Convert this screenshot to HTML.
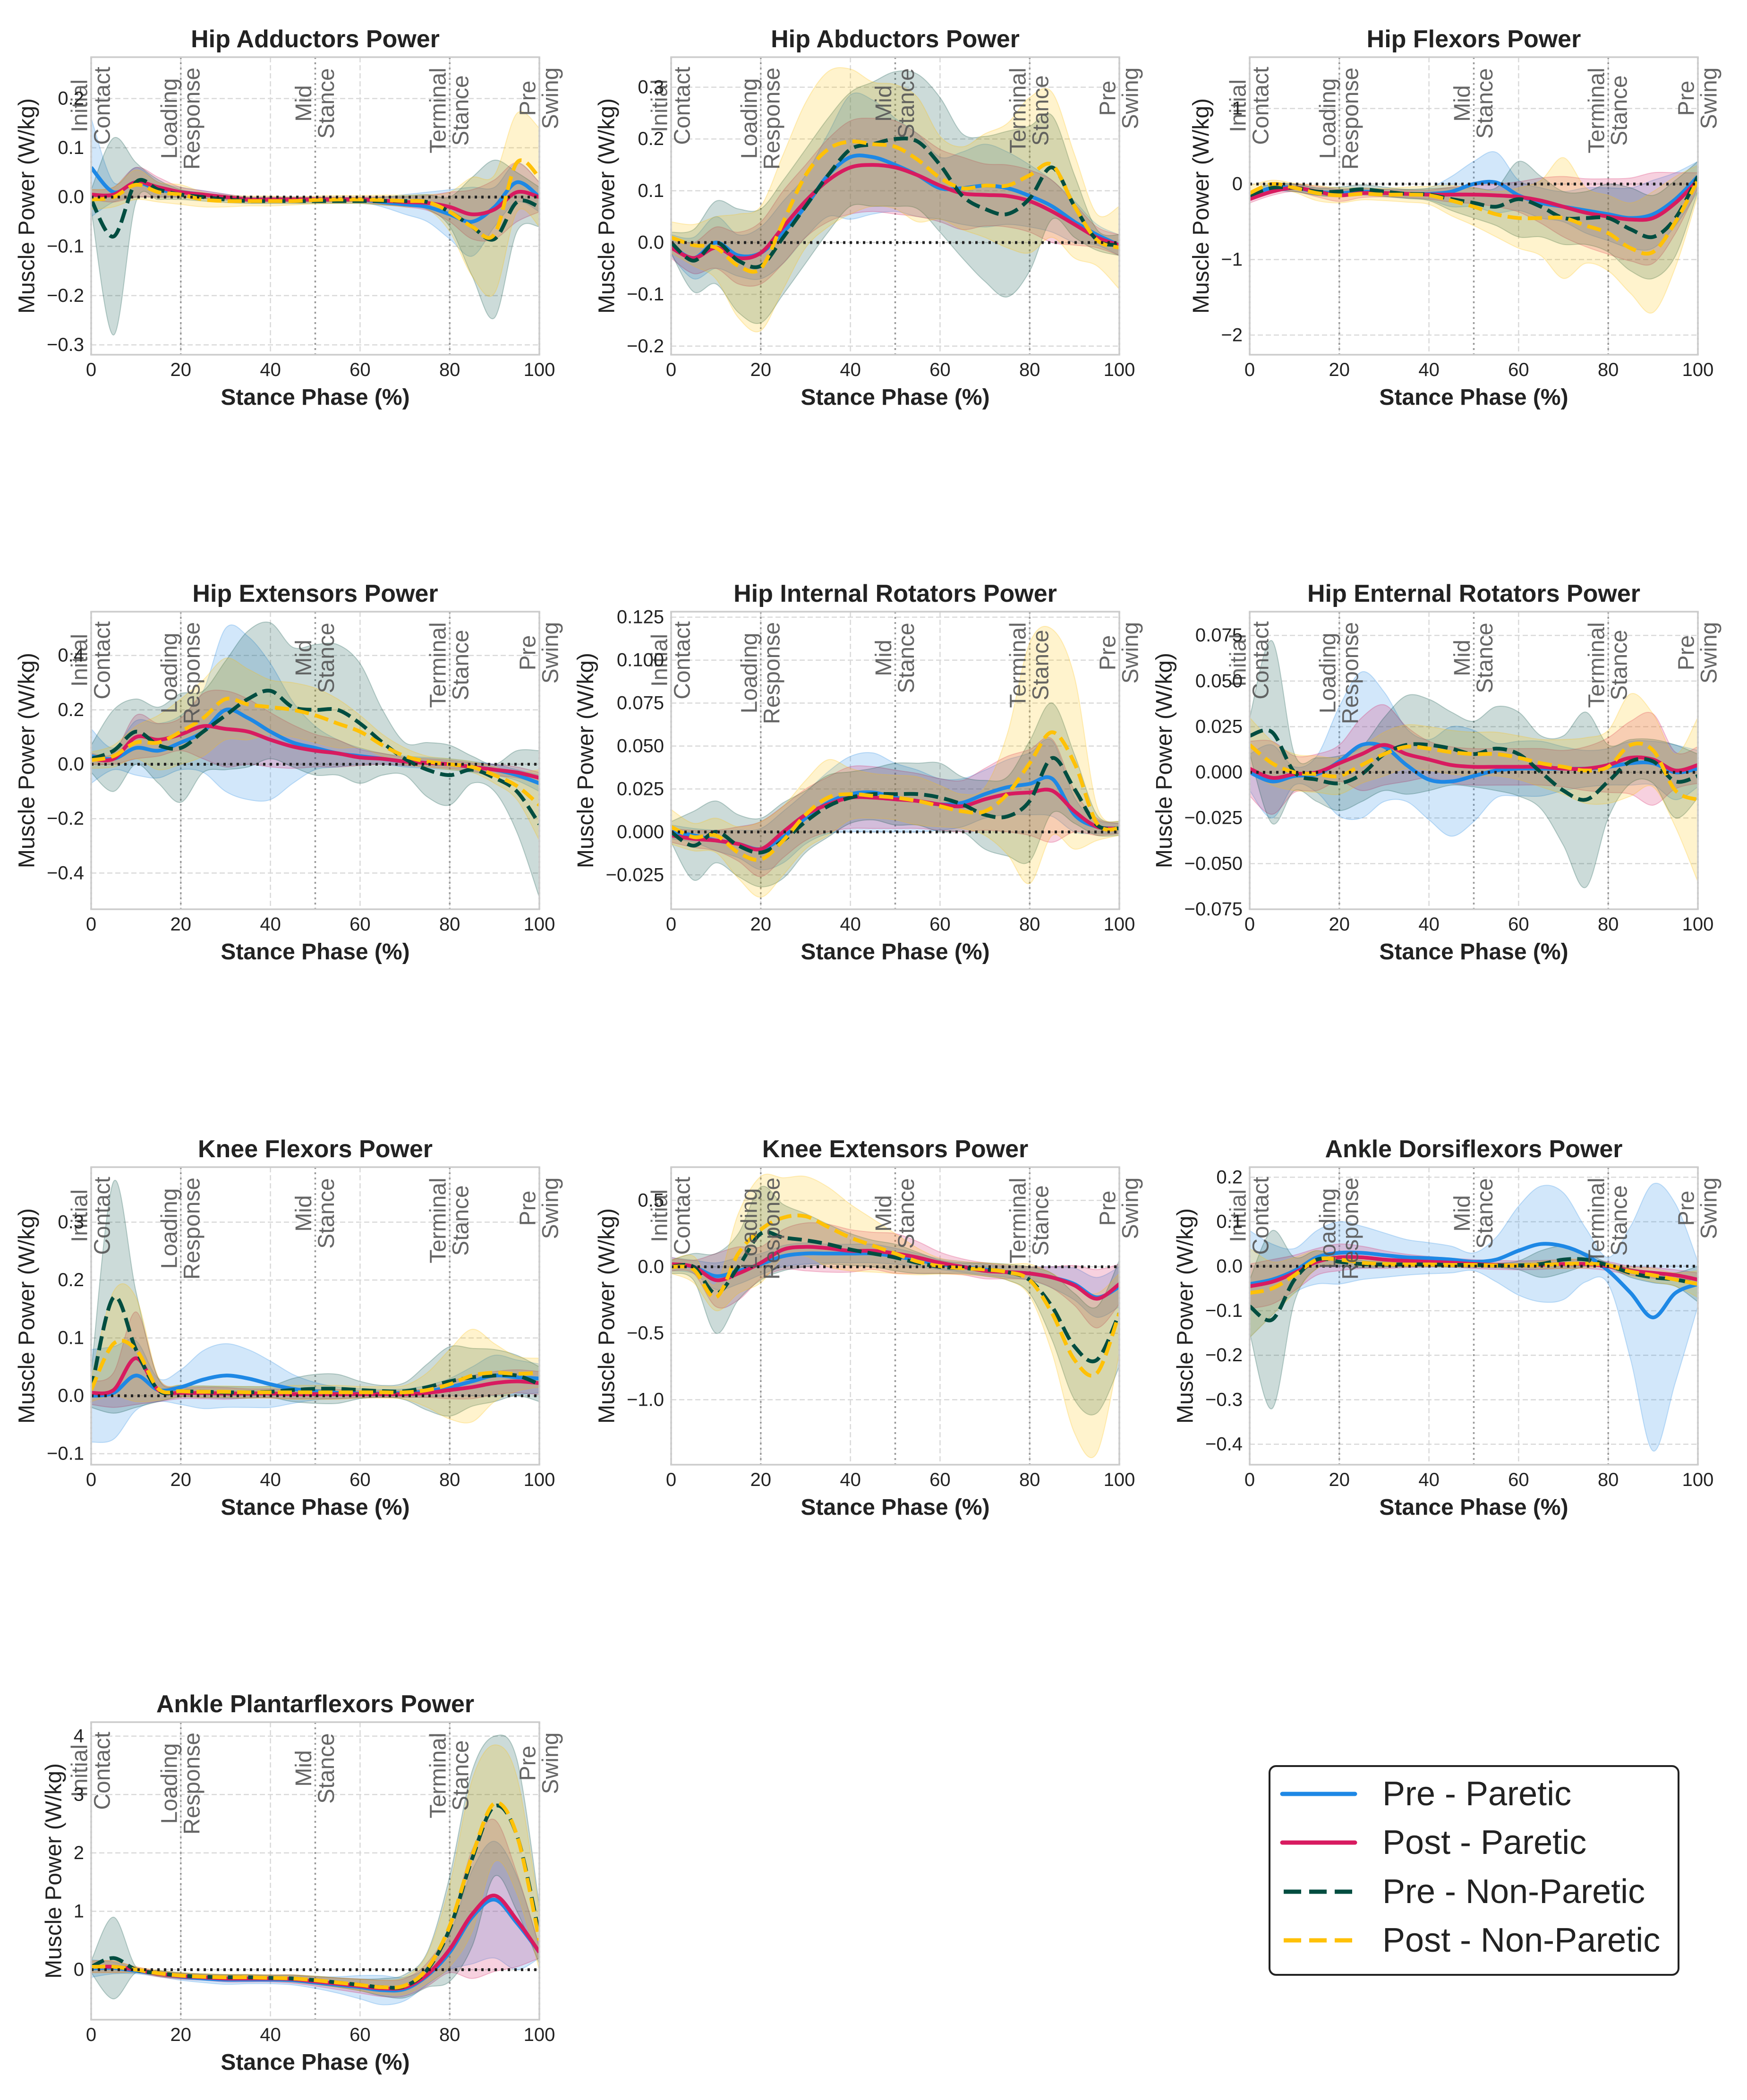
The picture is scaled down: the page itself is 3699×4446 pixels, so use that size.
<!DOCTYPE html>
<html><head><meta charset="utf-8"><style>
html,body{margin:0;padding:0;background:#fff;}
svg{display:block;font-family:"Liberation Sans",Arial,sans-serif;}
</style></head><body>
<svg id="fig" width="3699" height="4446" viewBox="0 0 3699 4446" xmlns="http://www.w3.org/2000/svg">
<rect width="3699" height="4446" fill="#fff"/>
<g id="legend">
<rect x="2688" y="3739" width="866" height="442" rx="14" fill="#fff" stroke="#222" stroke-width="4"/>
<g><line x1="2715" y1="3798" x2="2869" y2="3798" stroke="#1E88E5" stroke-width="9" stroke-linecap="round"/><text x="2927" y="3798" font-size="72" dominant-baseline="central" fill="#222">Pre - Paretic</text></g>
<g><line x1="2715" y1="3901" x2="2869" y2="3901" stroke="#D81B60" stroke-width="9" stroke-linecap="round"/><text x="2927" y="3901" font-size="72" dominant-baseline="central" fill="#222">Post - Paretic</text></g>
<g><line x1="2718" y1="4005" x2="2866" y2="4005" stroke="#004D40" stroke-width="9" stroke-dasharray="37 17"/><text x="2927" y="4005" font-size="72" dominant-baseline="central" fill="#222">Pre - Non-Paretic</text></g>
<g><line x1="2718" y1="4108" x2="2866" y2="4108" stroke="#FFC107" stroke-width="9" stroke-dasharray="37 17"/><text x="2927" y="4108" font-size="72" dominant-baseline="central" fill="#222">Post - Non-Paretic</text></g>
</g>
</svg>
<script>
const phase = [0,5,10,15,20,25,30,35,40,45,50,55,60,65,70,75,80,85,90,95,100];
const xTicks = [0,20,40,60,80,100];
const seriesNames = ["Pre - Paretic","Post - Paretic","Pre - Non-Paretic","Post - Non-Paretic"];
const panelTitles = ["Hip Adductors Power","Hip Abductors Power","Hip Flexors Power","Hip Extensors Power","Hip Internal Rotators Power","Hip Enternal Rotators Power","Knee Flexors Power","Knee Extensors Power","Ankle Dorsiflexors Power","Ankle Plantarflexors Power"];

// 1 Hip Adductors
const hipAdd_prePar = [0.06,0.01,0.03,0.015,0.01,0.005,0,-0.005,-0.005,-0.005,-0.005,-0.005,-0.005,-0.01,-0.015,-0.02,-0.035,-0.05,-0.02,0.03,0];
const hipAdd_postPar = [0.005,0.005,0.03,0.02,0.01,0.005,0,-0.005,-0.005,-0.005,-0.005,-0.005,-0.005,-0.007,-0.01,-0.012,-0.02,-0.035,-0.025,0.01,0];
const hipAdd_preNon = [-0.005,-0.08,0.03,0.015,0.005,0,-0.005,-0.008,-0.008,-0.008,-0.008,-0.008,-0.008,-0.008,-0.008,-0.01,-0.03,-0.06,-0.085,-0.01,-0.02];
const hipAdd_postNon = [-0.005,0,0.025,0.01,0.005,-0.005,-0.008,-0.008,-0.008,-0.008,-0.006,-0.005,-0.005,-0.006,-0.008,-0.01,-0.03,-0.06,-0.075,0.07,0.04];
const hipAdd_prePar_sd = [0.1,0.02,0.03,0.015,0.01,0.008,0.006,0.005,0.005,0.005,0.005,0.005,0.005,0.01,0.02,0.03,0.05,0.07,0.04,0.04,0.03];
const hipAdd_postPar_sd = [0.01,0.015,0.03,0.02,0.01,0.008,0.006,0.005,0.005,0.005,0.005,0.005,0.005,0.008,0.01,0.015,0.03,0.05,0.06,0.06,0.03];
const hipAdd_preNon_sd = [0.02,0.2,0.04,0.02,0.01,0.008,0.006,0.005,0.005,0.005,0.005,0.005,0.005,0.008,0.01,0.015,0.03,0.1,0.16,0.06,0.04];
const hipAdd_postNon_sd = [0.02,0.02,0.03,0.02,0.02,0.015,0.012,0.01,0.01,0.008,0.008,0.008,0.008,0.01,0.012,0.015,0.04,0.1,0.12,0.1,0.1];
// 2 Hip Abductors
const hipAbd_prePar = [-0.005,-0.03,0,-0.025,-0.02,0.02,0.07,0.13,0.165,0.165,0.15,0.13,0.105,0.105,0.11,0.105,0.09,0.07,0.04,0.015,-0.005];
const hipAbd_postPar = [-0.01,-0.03,-0.01,-0.03,-0.02,0.03,0.08,0.12,0.145,0.15,0.145,0.13,0.11,0.095,0.092,0.09,0.08,0.06,0.035,0.01,-0.005];
const hipAbd_preNon = [0,-0.035,0,-0.035,-0.045,0.01,0.07,0.13,0.18,0.19,0.2,0.195,0.15,0.09,0.065,0.055,0.085,0.145,0.07,0.005,-0.005];
const hipAbd_postNon = [0.01,-0.005,-0.01,-0.045,-0.05,0.04,0.13,0.18,0.195,0.19,0.185,0.16,0.125,0.105,0.11,0.11,0.13,0.15,0.07,0.005,-0.01];
const hipAbd_prePar_sd = [0.02,0.04,0.05,0.04,0.05,0.06,0.06,0.08,0.12,0.11,0.09,0.08,0.06,0.07,0.08,0.07,0.06,0.05,0.04,0.02,0.02];
const hipAbd_postPar_sd = [0.02,0.03,0.04,0.05,0.06,0.07,0.07,0.08,0.09,0.09,0.09,0.08,0.07,0.07,0.06,0.06,0.06,0.06,0.04,0.02,0.02];
const hipAbd_preNon_sd = [0.02,0.06,0.08,0.1,0.11,0.11,0.11,0.11,0.11,0.12,0.13,0.13,0.13,0.12,0.14,0.16,0.14,0.1,0.06,0.02,0.02];
const hipAbd_postNon_sd = [0.03,0.04,0.06,0.1,0.12,0.13,0.14,0.15,0.14,0.12,0.12,0.12,0.08,0.08,0.1,0.12,0.15,0.14,0.1,0.05,0.08];
// 3 Hip Flexors
const hipFlex_prePar = [-0.15,-0.05,-0.05,-0.1,-0.12,-0.1,-0.12,-0.13,-0.13,-0.1,0,0.02,-0.15,-0.25,-0.3,-0.35,-0.4,-0.45,-0.4,-0.2,0.1];
const hipFlex_postPar = [-0.2,-0.1,-0.05,-0.1,-0.15,-0.12,-0.12,-0.13,-0.14,-0.14,-0.14,-0.15,-0.17,-0.22,-0.3,-0.38,-0.43,-0.47,-0.45,-0.25,0.05];
const hipFlex_preNon = [-0.15,-0.05,-0.05,-0.1,-0.1,-0.07,-0.1,-0.13,-0.14,-0.2,-0.25,-0.3,-0.2,-0.3,-0.45,-0.45,-0.45,-0.6,-0.7,-0.45,0.1];
const hipFlex_postNon = [-0.12,0,-0.05,-0.12,-0.15,-0.13,-0.14,-0.14,-0.15,-0.22,-0.3,-0.4,-0.45,-0.45,-0.45,-0.55,-0.65,-0.85,-0.9,-0.5,0.05];
const hipFlex_prePar_sd = [0.05,0.05,0.05,0.05,0.05,0.05,0.05,0.06,0.08,0.2,0.3,0.4,0.2,0.2,0.2,0.3,0.35,0.4,0.45,0.35,0.2];
const hipFlex_postPar_sd = [0.05,0.05,0.05,0.07,0.08,0.06,0.05,0.05,0.06,0.1,0.12,0.15,0.2,0.3,0.4,0.45,0.5,0.55,0.6,0.4,0.1];
const hipFlex_preNon_sd = [0.05,0.05,0.05,0.05,0.06,0.06,0.06,0.06,0.08,0.15,0.2,0.25,0.5,0.4,0.35,0.35,0.45,0.55,0.55,0.5,0.2];
const hipFlex_postNon_sd = [0.1,0.05,0.06,0.1,0.1,0.08,0.08,0.1,0.12,0.2,0.25,0.3,0.4,0.5,0.8,0.5,0.5,0.6,0.8,0.6,0.2];
// 4 Hip Extensors
const hipExt_prePar = [0.03,0.02,0.06,0.05,0.08,0.12,0.2,0.17,0.12,0.08,0.06,0.04,0.03,0.02,0.01,0.005,0,-0.01,-0.02,-0.04,-0.07];
const hipExt_postPar = [0.02,0.02,0.1,0.09,0.11,0.14,0.13,0.12,0.09,0.065,0.05,0.04,0.025,0.02,0.01,0.005,0,-0.01,-0.02,-0.03,-0.05];
const hipExt_preNon = [0.02,0.05,0.12,0.07,0.06,0.12,0.18,0.24,0.27,0.21,0.2,0.2,0.15,0.08,0.02,-0.02,-0.04,-0.02,-0.05,-0.1,-0.22];
const hipExt_postNon = [0.015,0.03,0.08,0.08,0.12,0.17,0.24,0.22,0.21,0.2,0.18,0.15,0.12,0.07,0.03,0.01,0,-0.01,-0.04,-0.08,-0.15];
const hipExt_prePar_sd = [0.1,0.04,0.1,0.1,0.1,0.15,0.3,0.3,0.25,0.15,0.08,0.05,0.03,0.02,0.02,0.02,0.02,0.02,0.02,0.02,0.03];
const hipExt_postPar_sd = [0.02,0.02,0.08,0.06,0.06,0.12,0.14,0.12,0.1,0.08,0.06,0.05,0.03,0.02,0.015,0.015,0.015,0.015,0.02,0.02,0.02];
const hipExt_preNon_sd = [0.05,0.15,0.12,0.14,0.2,0.15,0.2,0.25,0.25,0.22,0.24,0.24,0.22,0.12,0.06,0.1,0.11,0.05,0.05,0.15,0.27];
const hipExt_postNon_sd = [0.03,0.04,0.06,0.1,0.12,0.14,0.15,0.13,0.1,0.1,0.1,0.09,0.06,0.04,0.03,0.02,0.02,0.02,0.03,0.05,0.13];
// 5 Hip Internal Rotators
const hipIR_prePar = [0,-0.002,-0.005,-0.007,-0.01,-0.003,0.008,0.017,0.022,0.023,0.02,0.018,0.016,0.017,0.022,0.026,0.028,0.031,0.01,0.003,0.002];
const hipIR_postPar = [-0.002,-0.004,-0.005,-0.007,-0.01,0,0.01,0.016,0.02,0.02,0.019,0.018,0.016,0.015,0.019,0.022,0.023,0.024,0.012,0.003,0.002];
const hipIR_preNon = [0,-0.008,0,-0.008,-0.012,-0.005,0.006,0.015,0.02,0.022,0.022,0.022,0.02,0.016,0.01,0.009,0.018,0.043,0.025,0.004,0.002];
const hipIR_postNon = [0.003,-0.003,-0.002,-0.012,-0.016,-0.005,0.01,0.02,0.022,0.021,0.02,0.018,0.015,0.012,0.012,0.022,0.04,0.058,0.04,0.005,0.002];
const hipIR_prePar_sd = [0.004,0.004,0.006,0.008,0.012,0.015,0.015,0.018,0.022,0.023,0.02,0.018,0.015,0.014,0.014,0.016,0.018,0.022,0.01,0.004,0.003];
const hipIR_postPar_sd = [0.004,0.005,0.006,0.01,0.016,0.015,0.015,0.016,0.018,0.018,0.017,0.016,0.015,0.015,0.018,0.022,0.025,0.03,0.012,0.005,0.003];
const hipIR_preNon_sd = [0.006,0.02,0.018,0.018,0.02,0.022,0.018,0.018,0.015,0.015,0.018,0.018,0.02,0.016,0.02,0.023,0.035,0.032,0.02,0.006,0.004];
const hipIR_postNon_sd = [0.01,0.008,0.01,0.015,0.022,0.02,0.02,0.022,0.015,0.013,0.013,0.014,0.012,0.01,0.014,0.035,0.07,0.06,0.05,0.01,0.004];
// 6 Hip External Rotators
const hipER_prePar = [0,-0.005,-0.002,-0.001,0.006,0.015,0.014,0.004,-0.004,-0.005,-0.002,0.001,0.002,0.002,0.002,0.002,0.003,0.005,0.005,0,0.002];
const hipER_postPar = [0.002,-0.003,-0.001,0,0.005,0.01,0.015,0.01,0.007,0.004,0.003,0.003,0.003,0.003,0.002,0.002,0.004,0.008,0.007,0.001,0.004];
const hipER_preNon = [0.02,0.022,0,-0.004,-0.006,-0.001,0.01,0.015,0.015,0.013,0.01,0.013,0.01,0,-0.01,-0.015,-0.005,0.006,0.006,-0.005,-0.002];
const hipER_postNon = [0.015,0.005,0,-0.001,-0.002,0.004,0.01,0.014,0.013,0.011,0.01,0.01,0.008,0.005,0.003,0.001,0.003,0.015,0.012,-0.01,-0.015];
const hipER_prePar_sd = [0.01,0.02,0.005,0.01,0.03,0.04,0.03,0.02,0.022,0.03,0.025,0.015,0.015,0.015,0.012,0.01,0.01,0.012,0.012,0.015,0.01];
const hipER_postPar_sd = [0.015,0.02,0.01,0.01,0.01,0.02,0.022,0.015,0.01,0.01,0.01,0.01,0.01,0.01,0.01,0.012,0.015,0.02,0.025,0.01,0.01];
const hipER_preNon_sd = [0.01,0.05,0.01,0.012,0.015,0.015,0.02,0.027,0.025,0.02,0.018,0.023,0.023,0.02,0.03,0.048,0.02,0.012,0.012,0.02,0.012];
const hipER_postNon_sd = [0.015,0.012,0.01,0.01,0.01,0.01,0.012,0.012,0.012,0.012,0.012,0.012,0.012,0.013,0.015,0.018,0.02,0.028,0.02,0.02,0.045];
// 7 Knee Flexors
const kneeFlex_prePar = [0,0.005,0.035,0.01,0.015,0.028,0.035,0.03,0.02,0.012,0.008,0.005,0.004,0.004,0.005,0.008,0.015,0.025,0.035,0.032,0.03];
const kneeFlex_postPar = [0.005,0.01,0.065,0.01,0.005,0.005,0.004,0.004,0.004,0.003,0.003,0.003,0.003,0.003,0.003,0.005,0.01,0.015,0.022,0.025,0.022];
const kneeFlex_preNon = [0.01,0.17,0.08,0.01,0.008,0.007,0.006,0.006,0.007,0.01,0.012,0.012,0.01,0.008,0.008,0.015,0.025,0.032,0.035,0.035,0.02];
const kneeFlex_postNon = [0.01,0.09,0.08,0.012,0.008,0.007,0.007,0.006,0.006,0.006,0.006,0.006,0.006,0.006,0.006,0.01,0.02,0.035,0.04,0.038,0.04];
const kneeFlex_prePar_sd = [0.08,0.08,0.06,0.02,0.03,0.05,0.055,0.05,0.04,0.025,0.015,0.01,0.008,0.007,0.007,0.01,0.015,0.025,0.035,0.03,0.025];
const kneeFlex_postPar_sd = [0.02,0.03,0.08,0.02,0.01,0.01,0.01,0.008,0.008,0.008,0.008,0.008,0.006,0.006,0.006,0.008,0.015,0.02,0.02,0.02,0.02];
const kneeFlex_preNon_sd = [0.03,0.2,0.1,0.02,0.01,0.01,0.01,0.01,0.01,0.02,0.025,0.025,0.015,0.01,0.015,0.04,0.06,0.05,0.045,0.035,0.03];
const kneeFlex_postNon_sd = [0.02,0.09,0.09,0.02,0.01,0.01,0.01,0.01,0.01,0.012,0.012,0.012,0.01,0.01,0.012,0.03,0.06,0.08,0.05,0.03,0.025];
// 8 Knee Extensors
const kneeExt_prePar = [0.02,0,-0.07,-0.03,0.02,0.08,0.1,0.1,0.1,0.1,0.08,0.05,0.02,0,-0.02,-0.04,-0.05,-0.08,-0.13,-0.23,-0.15];
const kneeExt_postPar = [0.02,0,-0.1,-0.05,0.03,0.13,0.15,0.14,0.12,0.12,0.1,0.07,0.03,0,-0.03,-0.04,-0.05,-0.08,-0.14,-0.24,-0.13];
const kneeExt_preNon = [0,0,-0.2,0,0.25,0.22,0.2,0.17,0.13,0.1,0.07,0.03,0,-0.01,-0.02,-0.04,-0.1,-0.3,-0.6,-0.7,-0.35];
const kneeExt_postNon = [0,-0.02,-0.23,0.1,0.28,0.37,0.38,0.3,0.22,0.16,0.1,0.04,0.005,-0.01,-0.02,-0.04,-0.1,-0.35,-0.7,-0.8,-0.35];
const kneeExt_prePar_sd = [0.05,0.05,0.1,0.1,0.08,0.08,0.08,0.07,0.07,0.07,0.06,0.05,0.04,0.04,0.04,0.04,0.05,0.08,0.12,0.15,0.15];
const kneeExt_postPar_sd = [0.05,0.05,0.2,0.2,0.12,0.15,0.18,0.18,0.16,0.14,0.15,0.12,0.08,0.06,0.06,0.05,0.05,0.08,0.15,0.22,0.15];
const kneeExt_preNon_sd = [0.05,0.1,0.3,0.25,0.35,0.25,0.2,0.15,0.12,0.1,0.1,0.08,0.05,0.04,0.05,0.06,0.1,0.25,0.4,0.4,0.4];
const kneeExt_postNon_sd = [0.05,0.1,0.1,0.3,0.4,0.3,0.3,0.3,0.25,0.2,0.15,0.1,0.06,0.05,0.05,0.06,0.12,0.3,0.55,0.6,0.3];
// 9 Ankle Dorsiflexors
const ankDF_prePar = [-0.04,-0.03,-0.01,0.02,0.03,0.03,0.025,0.02,0.018,0.015,0.01,0.015,0.035,0.05,0.045,0.025,-0.01,-0.06,-0.115,-0.06,-0.04];
const ankDF_postPar = [-0.045,-0.035,-0.015,0.01,0.02,0.02,0.015,0.012,0.01,0.008,0.005,0.003,0.002,0.003,0.005,0.005,0,-0.01,-0.015,-0.02,-0.03];
const ankDF_preNon = [-0.09,-0.12,-0.03,0.015,0.01,0.005,0.004,0.004,0.004,0.003,0.003,0.002,0.002,0.005,0.015,0.015,0.002,-0.015,-0.025,-0.03,-0.04];
const ankDF_postNon = [-0.06,-0.05,-0.02,0.015,0.015,0.008,0.005,0.004,0.004,0.003,0.003,0.002,0.002,0.003,0.005,0.006,0.002,-0.012,-0.02,-0.03,-0.04];
const ankDF_prePar_sd = [0.12,0.08,0.05,0.06,0.07,0.06,0.05,0.04,0.035,0.03,0.02,0.05,0.1,0.13,0.12,0.06,0.03,0.15,0.3,0.2,0.05];
const ankDF_postPar_sd = [0.05,0.05,0.04,0.03,0.03,0.025,0.02,0.015,0.012,0.01,0.01,0.01,0.01,0.01,0.01,0.01,0.01,0.01,0.012,0.012,0.015];
const ankDF_preNon_sd = [0.06,0.2,0.05,0.02,0.01,0.008,0.006,0.005,0.005,0.005,0.005,0.005,0.01,0.03,0.03,0.015,0.005,0.01,0.012,0.015,0.04];
const ankDF_postNon_sd = [0.1,0.06,0.04,0.02,0.01,0.008,0.006,0.005,0.005,0.005,0.005,0.005,0.005,0.008,0.01,0.01,0.005,0.01,0.015,0.015,0.03];
// 10 Ankle Plantarflexors
const ankPF_prePar = [0.02,0.03,-0.02,-0.07,-0.12,-0.15,-0.17,-0.17,-0.17,-0.18,-0.22,-0.26,-0.3,-0.35,-0.33,-0.1,0.3,0.9,1.2,0.8,0.3];
const ankPF_postPar = [0.05,0.05,0,-0.07,-0.11,-0.13,-0.15,-0.15,-0.15,-0.16,-0.2,-0.24,-0.28,-0.32,-0.3,-0.08,0.35,0.95,1.27,0.85,0.3];
const ankPF_preNon = [0.05,0.2,0,-0.06,-0.1,-0.12,-0.13,-0.13,-0.14,-0.15,-0.18,-0.22,-0.26,-0.3,-0.28,0,0.7,1.9,2.8,2.3,0.6];
const ankPF_postNon = [0.05,0.05,0,-0.06,-0.1,-0.12,-0.13,-0.13,-0.14,-0.15,-0.18,-0.22,-0.26,-0.3,-0.27,0.02,0.75,1.95,2.85,2.3,0.5];
const ankPF_prePar_sd = [0.15,0.1,0.05,0.05,0.06,0.07,0.08,0.07,0.07,0.08,0.1,0.14,0.2,0.25,0.2,0.15,0.3,0.8,1.0,0.8,0.1];
const ankPF_postPar_sd = [0.1,0.1,0.05,0.05,0.05,0.05,0.06,0.06,0.06,0.07,0.08,0.1,0.12,0.14,0.15,0.2,0.4,1.1,1.3,0.8,0.1];
const ankPF_preNon_sd = [0.1,0.7,0.05,0.05,0.05,0.05,0.05,0.05,0.05,0.06,0.07,0.08,0.1,0.15,0.2,0.3,0.9,1.5,1.2,1.3,0.5];
const ankPF_postNon_sd = [0.1,0.1,0.05,0.05,0.05,0.05,0.05,0.05,0.05,0.06,0.07,0.08,0.1,0.12,0.15,0.25,0.7,1.3,1.0,1.0,0.5];

const yLimits = [[-0.32,0.284],[-0.2166,0.358],[-2.26,1.68],[-0.533,0.561],[-0.045,0.1282],[-0.075,0.088],[-0.119,0.395],[-1.489,0.75],[-0.446,0.2227],[-0.856,4.24]];
const yTickSets = [[-0.3,-0.2,-0.1,0,0.1,0.2],[-0.2,-0.1,0,0.1,0.2,0.3],[-2,-1,0,1],[-0.4,-0.2,0,0.2,0.4],[-0.025,0,0.025,0.05,0.075,0.1,0.125],[-0.075,-0.05,-0.025,0,0.025,0.05,0.075],[-0.1,0,0.1,0.2,0.3],[-1,-0.5,0,0.5],[-0.4,-0.3,-0.2,-0.1,0,0.1,0.2],[0,1,2,3,4]];
const yTickDecimals = [1,1,0,1,3,3,1,1,1,0];
const panelMeans = [
 [hipAdd_prePar,hipAdd_postPar,hipAdd_preNon,hipAdd_postNon],
 [hipAbd_prePar,hipAbd_postPar,hipAbd_preNon,hipAbd_postNon],
 [hipFlex_prePar,hipFlex_postPar,hipFlex_preNon,hipFlex_postNon],
 [hipExt_prePar,hipExt_postPar,hipExt_preNon,hipExt_postNon],
 [hipIR_prePar,hipIR_postPar,hipIR_preNon,hipIR_postNon],
 [hipER_prePar,hipER_postPar,hipER_preNon,hipER_postNon],
 [kneeFlex_prePar,kneeFlex_postPar,kneeFlex_preNon,kneeFlex_postNon],
 [kneeExt_prePar,kneeExt_postPar,kneeExt_preNon,kneeExt_postNon],
 [ankDF_prePar,ankDF_postPar,ankDF_preNon,ankDF_postNon],
 [ankPF_prePar,ankPF_postPar,ankPF_preNon,ankPF_postNon]];
const panelSds = [
 [hipAdd_prePar_sd,hipAdd_postPar_sd,hipAdd_preNon_sd,hipAdd_postNon_sd],
 [hipAbd_prePar_sd,hipAbd_postPar_sd,hipAbd_preNon_sd,hipAbd_postNon_sd],
 [hipFlex_prePar_sd,hipFlex_postPar_sd,hipFlex_preNon_sd,hipFlex_postNon_sd],
 [hipExt_prePar_sd,hipExt_postPar_sd,hipExt_preNon_sd,hipExt_postNon_sd],
 [hipIR_prePar_sd,hipIR_postPar_sd,hipIR_preNon_sd,hipIR_postNon_sd],
 [hipER_prePar_sd,hipER_postPar_sd,hipER_preNon_sd,hipER_postNon_sd],
 [kneeFlex_prePar_sd,kneeFlex_postPar_sd,kneeFlex_preNon_sd,kneeFlex_postNon_sd],
 [kneeExt_prePar_sd,kneeExt_postPar_sd,kneeExt_preNon_sd,kneeExt_postNon_sd],
 [ankDF_prePar_sd,ankDF_postPar_sd,ankDF_preNon_sd,ankDF_postNon_sd],
 [ankPF_prePar_sd,ankPF_postPar_sd,ankPF_preNon_sd,ankPF_postNon_sd]];
const phaseMarks = [0,20,50,80,100];
const phaseLabels = [["Initial","Contact"],["Loading","Response"],["Mid","Stance"],["Terminal","Stance"],["Pre","Swing"]];

const NS = "http://www.w3.org/2000/svg";
const svg = document.getElementById('fig');
const legendNode = document.getElementById('legend');
const colors = ["#1E88E5","#D81B60","#004D40","#FFC107"];
const dashed = [false,false,true,true];
const serKeys = ["pre-paretic","post-paretic","pre-non-paretic","post-non-paretic"];
const colLeft = [193,1421,2646], rowTop = [121,1295,2471,3646], AW = 949, AH = 630;
const phaseCenterOff = [103,130,98,113,87];

function mk(tag, attrs, parent){ const e=document.createElementNS(NS,tag); for(const k in attrs) e.setAttribute(k,attrs[k]); parent.appendChild(e); return e; }
function smoothPath(pts, move){
  let d = (move?"M":"L")+pts[0][0].toFixed(1)+","+pts[0][1].toFixed(1);
  for(let i=0;i<pts.length-1;i++){
    const p0=pts[Math.max(0,i-1)],p1=pts[i],p2=pts[i+1],p3=pts[Math.min(pts.length-1,i+2)];
    const c1=[p1[0]+(p2[0]-p0[0])/6,p1[1]+(p2[1]-p0[1])/6], c2=[p2[0]-(p3[0]-p1[0])/6,p2[1]-(p3[1]-p1[1])/6];
    d+="C"+c1[0].toFixed(1)+","+c1[1].toFixed(1)+" "+c2[0].toFixed(1)+","+c2[1].toFixed(1)+" "+p2[0].toFixed(1)+","+p2[1].toFixed(1);
  }
  return d;
}
function fmt(v,dec){ const s=Math.abs(v).toFixed(dec); return (v<-1e-9?"\u2212":"")+s; }

for(let p=0;p<10;p++){
  const L = colLeft[p%3], T = rowTop[Math.floor(p/3)];
  const [y0,y1] = yLimits[p];
  const xs = v => L + v/100*AW;
  const ys = v => T + AH - (v-y0)/(y1-y0)*AH;
  const g = mk('g',{},svg);
  
  
  const cid='clip'+p;
  const cp = mk('clipPath',{id:cid},g); mk('rect',{x:L,y:T,width:AW,height:AH},cp);
  // grid
  const grid = mk('g',{stroke:"#d9d9d9","stroke-width":2.5,"stroke-dasharray":"11 6"},g);
  
  
  xTicks.forEach(t=>mk('line',{x1:xs(t),x2:xs(t),y1:T,y2:T+AH},grid));
  yTickSets[p].forEach(t=>mk('line',{x1:L,x2:L+AW,y1:ys(t),y2:ys(t)},grid));
  // phase lines
  const pl = mk('g',{stroke:"#9a9a9a","stroke-width":3.5,"stroke-dasharray":"4 7"},g);
  
  
  phaseMarks.forEach(t=>mk('line',{x1:xs(t),x2:xs(t),y1:T,y2:T+AH},pl));
  const plot = mk('g',{'clip-path':'url(#'+cid+')'},g);
  // bands
  for(let s=0;s<4;s++){
    const m=panelMeans[p][s], sd=panelSds[p][s];
    const up=phase.map((x,i)=>[xs(x),ys(m[i]+sd[i])]);
    const lo=phase.map((x,i)=>[xs(x),ys(m[i]-sd[i])]).reverse();
    const band = mk('path',{d:smoothPath(up,true)+smoothPath(lo,false)+"Z",fill:colors[s],'fill-opacity':0.2,stroke:colors[s],'stroke-opacity':0.25,'stroke-width':2},plot);
    
    
  }
  for(let s=0;s<4;s++){
    const m=panelMeans[p][s];
    const pts=phase.map((x,i)=>[xs(x),ys(m[i])]);
    const ln = mk('path',{d:smoothPath(pts,true),fill:'none',stroke:colors[s],'stroke-width':8,'stroke-linejoin':'round'},plot);
    if(dashed[s]) ln.setAttribute('stroke-dasharray','30 13');
    
    
  }
  const zl = mk('line',{x1:L,x2:L+AW,y1:ys(0),y2:ys(0),stroke:"#222",'stroke-width':6,'stroke-dasharray':"5 9"},g);
  
  
  // frame
  const fr = mk('rect',{x:L,y:T,width:AW,height:AH,fill:'none',stroke:'#cccccc','stroke-width':3.5},g);
  
  
  // phase labels
  for(let k=0;k<5;k++){
    const cx = xs(phaseMarks[k]), cy = T + phaseCenterOff[k];
    const tg = mk('g',{},g);
    
    
    [-24,24].forEach((off,j)=>{
      const t = mk('text',{transform:'translate('+(cx+off)+','+cy+') rotate(-90)','text-anchor':'middle','dominant-baseline':'central','font-size':48,fill:'#555','fill-opacity':0.9},tg);
      t.textContent = phaseLabels[k][j];
    });
  }
  // x ticks
  xTicks.forEach(t=>{ const e=mk('text',{x:xs(t),y:T+AH+45,'text-anchor':'middle','font-size':40,fill:'#222'},g); e.textContent=String(t);
    
     });
  let maxW=0;
  yTickSets[p].forEach(t=>{ const e=mk('text',{x:L-15,y:ys(t),'text-anchor':'end','dominant-baseline':'central','font-size':40,fill:'#222'},g); e.textContent=fmt(t,yTickDecimals[p]);
    
    
    try{ maxW=Math.max(maxW,e.getComputedTextLength()); }catch(err){ maxW=Math.max(maxW,e.textContent.length*22); } });
  const title = mk('text',{x:L+AW/2,y:T-21,'text-anchor':'middle','font-size':52,'font-weight':'bold',fill:'#222'},g);
  title.textContent = panelTitles[p];
  
  
  const xl = mk('text',{x:L+AW/2,y:T+AH+106,'text-anchor':'middle','font-size':48,'font-weight':'bold',fill:'#222'},g);
  xl.textContent = "Stance Phase (%)";
  
  
  const ylx = L-15-maxW-42;
  const yl = mk('text',{transform:'translate('+ylx+','+(T+AH/2)+') rotate(-90)','text-anchor':'middle','dominant-baseline':'central','font-size':48,fill:'#222'},g);
  yl.textContent = "Muscle Power (W/kg)";
  
  
}
svg.appendChild(legendNode);
</script>
</body></html>
